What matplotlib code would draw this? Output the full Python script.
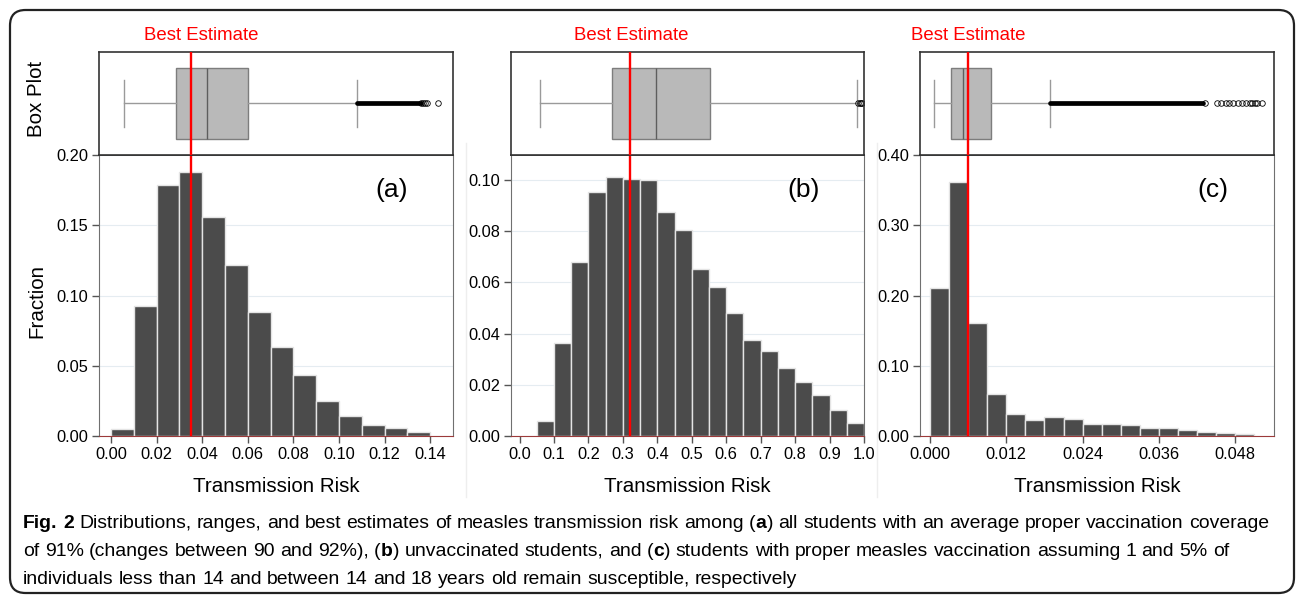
import matplotlib
matplotlib.use('Agg')
import matplotlib.pyplot as plt
import numpy as np
from matplotlib.patches import FancyBboxPatch
from matplotlib.lines import Line2D

plt.rcParams['font.family'] = ['Liberation Sans', 'DejaVu Sans']

W, H = 1296, 598

# --- datos ---
# (a) todos los estudiantes
a_bin_start, a_bin_width = 0.0, 0.01
a_frac = [0.0048, 0.0924, 0.179, 0.188, 0.156, 0.122, 0.0886, 0.063,
          0.0437, 0.0249, 0.0143, 0.0076, 0.0057, 0.0026]
a_best = 0.035
a_box = dict(whislo=0.0058, q1=0.0285, med=0.0421, q3=0.0602, whishi=0.1077)
a_dense_end = 0.1358
a_fliers = [0.1360, 0.1368, 0.1376, 0.1386, 0.1433]

# (b) no vacunados
b_bin_start, b_bin_width = 0.05, 0.05
b_frac = [0.0059, 0.0365, 0.0679, 0.0952, 0.1012, 0.1003, 0.0999, 0.0877,
          0.0804, 0.0652, 0.0583, 0.048, 0.0374, 0.0331, 0.0266, 0.021,
          0.0162, 0.0103, 0.0052]
b_best = 0.32
b_box = dict(whislo=0.059, q1=0.269, med=0.395, q3=0.553, whishi=0.980)
b_dense_end = 0.980
b_fliers = [0.983, 0.987, 0.991, 0.995]

# (c) vacunados
c_bin_start, c_bin_width = 0.0, 0.003
c_frac = [0.211, 0.362, 0.161, 0.0594, 0.0318, 0.0228, 0.0271, 0.0238,
          0.0176, 0.0176, 0.0152, 0.0119, 0.0109, 0.009, 0.0062, 0.0043, 0.0029]
c_best = 0.006
c_box = dict(whislo=0.0006, q1=0.0033, med=0.0052, q3=0.0096, whishi=0.0189)
c_dense_end = 0.0430
c_fliers = [0.0433, 0.0451, 0.0458, 0.0465, 0.0471, 0.0477, 0.0484, 0.0491,
            0.0497, 0.0503, 0.0507, 0.0511, 0.0514, 0.0522]

a_xticks = [0.00, 0.02, 0.04, 0.06, 0.08, 0.10, 0.12, 0.14]
b_xticks = [0.0, 0.1, 0.2, 0.3, 0.4, 0.5, 0.6, 0.7, 0.8, 0.9, 1.0]
c_xticks = [0.000, 0.012, 0.024, 0.036, 0.048]
a_yticks = [0.00, 0.05, 0.10, 0.15, 0.20]
b_yticks = [0.00, 0.02, 0.04, 0.06, 0.08, 0.10]
c_yticks = [0.00, 0.10, 0.20, 0.30, 0.40]

fig = plt.figure(figsize=(W / 100, H / 100), dpi=100)


def px_axes(x0, y0, x1, y1):
    return fig.add_axes([x0 / W, 1 - y1 / H, (x1 - x0) / W, (y1 - y0) / H])


paneles = [
    # x0, x1, xlim, ylim, datos..., desplazamiento del rotulo "Best Estimate" (px)
    (99, 453, (-0.0053, 0.150), (0, 0.20), a_bin_start, a_bin_width, a_frac, a_best,
     a_box, a_dense_end, a_fliers, a_xticks, '{:.2f}', a_yticks, '(a)', 10),
    (511, 864, (-0.025, 1.0), (0, 0.1098), b_bin_start, b_bin_width, b_frac, b_best,
     b_box, b_dense_end, b_fliers, b_xticks, '{:.1f}', b_yticks, '(b)', 1),
    (920, 1274, (-0.00157, 0.0541), (0, 0.40), c_bin_start, c_bin_width, c_frac, c_best,
     c_box, c_dense_end, c_fliers, c_xticks, '{:.3f}', c_yticks, '(c)', 0),
]

for (x0, x1, xlim, ylim, start, width, frac, best, box, dense_end, fliers,
     xticks, xfmt, yticks, letra, dx) in paneles:
    ax = px_axes(x0, 155, x1, 436)
    axb = px_axes(x0, 52, x1, 155)

    # histograma
    lefts = start + width * np.arange(len(frac))
    ax.bar(lefts, frac, width=width, align='edge', color='#4b4b4b',
           edgecolor='#e4e4e4', linewidth=1.0, zorder=2)
    ax.set_xlim(*xlim)
    ax.set_ylim(*ylim)
    ax.set_xticks(xticks)
    ax.set_xticklabels([xfmt.format(v) for v in xticks])
    ax.set_yticks(yticks)
    ax.set_yticklabels(['{:.2f}'.format(v) for v in yticks])
    ax.tick_params(direction='out', length=5, width=1, color='#555555',
                   labelsize=11.8, pad=3)
    ax.yaxis.grid(True, color='#e5ecf1', linewidth=0.8)
    ax.set_axisbelow(True)
    for s in ('left', 'right'):
        ax.spines[s].set_color('#707070')
    ax.spines['bottom'].set_color('#9c3a3a')
    ax.spines['top'].set_color('#333333')
    ax.spines['top'].set_linewidth(1.2)
    ax.axvline(best, color='red', linewidth=1.7, zorder=5)
    ax.text(0.828, 0.875, letra, transform=ax.transAxes, fontsize=19,
            ha='center', va='center')

    # diagrama de caja
    stats = dict(box)
    stats['fliers'] = fliers
    kw = dict(positions=[0.5], widths=0.68, patch_artist=True, showfliers=True,
              boxprops=dict(facecolor='#b9b9b9', edgecolor='#7d7d7d', linewidth=1),
              medianprops=dict(color='#5e5e5e', linewidth=1),
              whiskerprops=dict(color='#9a9a9a', linewidth=1),
              capprops=dict(color='#9a9a9a', linewidth=1),
              flierprops=dict(marker='o', markerfacecolor='none',
                              markeredgecolor='black', markersize=4,
                              markeredgewidth=0.6),
              capwidths=0.46)
    try:
        axb.bxp([stats], orientation='horizontal', **kw)
    except TypeError:
        axb.bxp([stats], vert=False, **kw)
    # banda densa de valores atipicos
    axb.hlines(0.5, box['whishi'], dense_end, color='black', linewidth=3.4,
               capstyle='round', zorder=3)
    axb.set_xlim(*xlim)
    axb.set_ylim(0, 1)
    axb.set_xticks([])
    axb.set_yticks([])
    for s in axb.spines.values():
        s.set_color('#333333')
        s.set_linewidth(1.2)
    axb.axvline(best, color='red', linewidth=1.7, zorder=5)
    xb = axb.transData.transform((best, 0))[0] + dx
    fig.text(xb / W, 1 - 35 / H, 'Best Estimate', color='red', fontsize=13.4,
             ha='center', va='center')

    fig.text((x0 + x1) / 2 / W, 1 - 487 / H, 'Transmission Risk',
             fontsize=14.8, ha='center', va='center')

fig.text(37 / W, 1 - 301 / H, 'Fraction', rotation=90, fontsize=14.8,
         ha='center', va='center')
fig.text(37 / W, 1 - 99 / H, 'Box Plot', rotation=90, fontsize=14.8,
         ha='center', va='center')

# separadores tenues entre las imagenes
for xs in (466, 877):
    fig.add_artist(Line2D([xs / W, xs / W], [1 - 143 / H, 1 - 497 / H],
                          color='#eeeeee', linewidth=1))

# marco redondeado
fig.add_artist(FancyBboxPatch((10 / W, 1 - 593 / H), 1284 / W, 583 / H,
                              boxstyle='round,pad=0,rounding_size=0.012',
                              transform=fig.transFigure, facecolor='none',
                              edgecolor='#222222', linewidth=1.6,
                              mutation_aspect=W / H))

# leyenda de la figura, palabra por palabra
lineas = [
    [('Fig. 2', 'bold'),
     (' Distributions, ranges, and best estimates of measles transmission risk among (', 'normal'),
     ('a', 'bold'), (') all students with an average proper vaccination coverage', 'normal')],
    [('of 91% (changes between 90 and 92%), (', 'normal'), ('b', 'bold'),
     (') unvaccinated students, and (', 'normal'), ('c', 'bold'),
     (') students with proper measles vaccination assuming 1 and 5% of', 'normal')],
    [('individuals less than 14 and between 14 and 18 years old remain susceptible, respectively', 'normal')],
]
lineas_base = [528, 556, 584]

renderer = fig.canvas.get_renderer()
_cache = {}


def medir(s, size, weight):
    key = (s, size, weight)
    if key not in _cache:
        t = fig.text(0, 0, s, fontsize=size, fontweight=weight)
        _cache[key] = t.get_window_extent(renderer).width
        t.remove()
    return _cache[key]


def avance(s, size, weight):
    # ancho de avance real, incluidos los espacios
    return medir('x' + s + 'x', size, weight) - medir('xx', size, weight)


def tokens(segs):
    out = []
    for s, w in segs:
        partes = s.split(' ')
        for i, p in enumerate(partes):
            if i > 0:
                out.append((None, 'normal'))
            if p:
                out.append((p, w))
    return out


def dibujar(segs, x0, y, size, draw=True):
    esp = avance(' ', size, 'normal')
    x = x0
    palabra = []
    for tok, w in tokens(segs):
        if tok is None:
            x += esp
            continue
        if draw:
            fig.text(x / W, 1 - y / H, tok, fontsize=size, fontweight=w,
                     ha='left', va='baseline')
        x += avance(tok, size, w)
    return x - x0


base = 12.0
ancho = dibujar(lineas[0], 23, lineas_base[0], base, draw=False)
size = base * 1245 / ancho
for segs, y in zip(lineas, lineas_base):
    dibujar(segs, 23, y, size)

fig.savefig('out.png', dpi=100)
